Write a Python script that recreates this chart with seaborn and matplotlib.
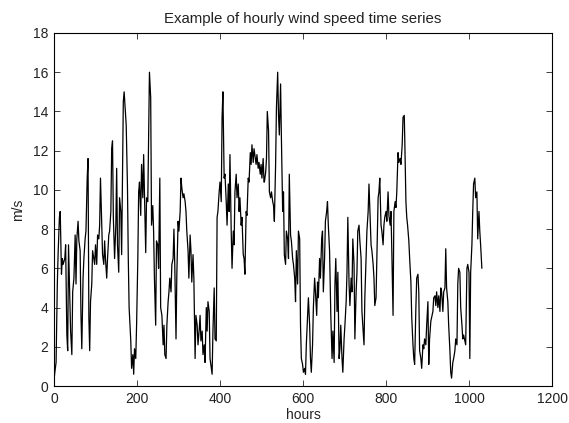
import matplotlib
matplotlib.use("Agg")
import matplotlib.pyplot as plt
import seaborn as sns
import pandas as pd

hours = [0, 2, 5, 8, 10, 13, 15, 18, 20, 22, 26, 28, 31, 33, 35, 38, 40, 43, 45, 48,
         51, 53, 55, 58, 60, 63, 65, 67, 70, 72, 75, 77, 80, 82, 84, 86, 88, 91, 93, 96,
         98, 100, 103, 105, 108, 110, 112, 115, 117, 120, 122, 124, 127, 129, 132, 134, 137, 139, 141, 143,
         146, 149, 151, 153, 156, 158, 161, 163,
         167, 169, 172, 174, 177, 179, 181, 185, 187, 190, 192, 194, 197, 199, 202, 204, 206, 209, 211, 214,
         216, 218, 221, 223, 226, 228, 230, 233, 235, 238, 240, 242, 245, 247, 250, 252, 255, 257, 260, 263,
         265, 267, 270, 272, 275, 277, 279, 282, 284, 287, 289, 291, 294, 296, 299, 301, 304, 306, 308, 311,
         313, 316, 318, 320, 323, 325, 328, 330, 332, 335, 337,
         340, 342, 345, 347, 350, 352, 354, 357, 359, 362, 364, 367, 369, 371, 374, 376, 379, 381, 383, 386,
         388, 391, 393, 395, 398, 400, 403, 405, 407, 410, 412, 415, 417, 420, 422, 424, 427, 429, 432, 434,
         436, 439, 441, 444, 446, 448, 451, 453, 456, 458, 460, 463, 465, 468, 470, 473, 475, 477, 480, 482,
         485, 487, 489, 492, 494, 497, 499, 501, 504, 506,
         507, 510, 512, 514, 517, 519, 522, 524, 527, 529, 531, 534, 536, 539, 541, 543, 546, 548, 551, 553,
         555, 558, 560, 563, 565, 567, 570, 572, 575, 577, 580, 582, 584, 587, 589, 592, 594, 596, 599, 601,
         604, 606, 608, 611, 613, 616, 618, 620, 623, 625, 628, 630, 633, 635, 637, 640, 642, 645, 647, 649,
         652, 654, 657, 659, 661, 664,
         667, 670, 672, 675, 677, 679, 682, 684, 687, 689, 691, 694, 696, 699, 701, 704, 706, 708, 711, 713,
         716, 718, 720, 723, 725, 728, 730, 732, 735, 737, 740, 742, 745, 747, 749, 752, 754, 757, 759, 761,
         764, 766, 769, 771, 773, 776, 778, 781, 783, 785, 788, 790, 793, 795, 797, 800, 802, 805, 807, 810,
         812, 814, 817, 819, 822, 824, 826, 829, 831,
         834, 836, 839, 841, 844, 845, 848, 850, 852, 855, 857, 860, 862, 865, 867, 869, 872, 874, 877, 879,
         881, 884, 886, 889, 891, 893, 896, 898, 901, 903, 905, 908, 910, 913, 915, 918, 920, 922, 925, 927,
         930, 932, 934, 937, 939, 942, 944, 946, 949, 951, 954, 956, 958, 961, 963, 966, 968, 971, 973, 975,
         978, 980, 983, 985, 987, 990, 992, 995, 997, 1000, 1002, 1004, 1007, 1009, 1011, 1014, 1016, 1019, 1021, 1024,
         1026, 1028, 1031]

speed = [0.3, 0.7, 1.2, 5.2, 6.8, 8.6, 8.9, 5.7, 6.5, 6.2, 6.5, 7.2, 2.6, 1.8, 7.2, 4.5, 2.8, 1.6, 4.8, 5.5,
         7.7, 5.2, 7.5, 8.4, 7.4, 6.9, 3.6, 1.9, 5.5, 6.5, 7.5, 7.9, 10.6, 11.6, 3.5, 1.8, 4.3, 5.2, 6.9, 6.5,
         6.2, 7.2, 6.2, 7.7, 7.5, 8.2, 10.6, 8.2, 6.7, 6.2, 7.4, 6.5, 5.5, 6.5, 7.7, 7.9, 8.9, 12.1, 12.5, 8.6,
         6.5, 8.2, 11.1, 7.2, 5.8, 9.6, 8.9, 6.7,
         14.5, 15.0, 14.0, 13.3, 10.2, 6.5, 4.0, 2.3, 0.9, 1.6, 0.6, 1.9, 1.4, 3.1, 6.5, 9.9, 10.4, 8.7, 11.3, 9.6,
         11.8, 9.9, 6.8, 9.6, 9.4, 12.8, 16.0, 14.7, 8.2, 9.2, 7.9, 5.5, 3.1, 7.4, 7.2, 6.0, 10.6, 4.0, 3.6, 2.1,
         3.1, 1.6, 1.4, 3.1, 4.3, 4.8, 5.5, 4.8, 6.2, 6.5, 8.0, 6.2, 2.4, 5.7, 8.4, 7.9, 8.9, 10.6, 10.1, 9.6,
         9.8, 9.4, 8.9, 7.9, 6.9, 5.5, 7.7, 6.9, 5.3, 6.7, 5.5,
         1.4, 3.6, 3.1, 2.1, 2.9, 3.6, 2.3, 2.8, 1.6, 2.1, 1.2, 4.0, 2.8, 4.3, 3.8, 1.4, 0.9, 0.6, 2.8, 5.0,
         2.4, 2.3, 8.6, 8.9, 9.9, 10.4, 9.4, 13.7, 15.0, 10.6, 10.8, 9.4, 8.2, 10.3, 8.9, 11.8, 7.9, 6.0, 7.9, 7.2,
         9.9, 10.8, 9.6, 10.3, 8.9, 9.6, 8.2, 8.6, 6.7, 6.5, 5.7, 8.9, 8.7, 10.6, 10.4, 11.9, 11.3, 12.3, 11.4, 12.1,
         11.6, 11.3, 11.8, 11.1, 11.4, 10.8, 11.3, 10.6, 11.6, 10.4,
         10.4, 10.9, 11.6, 14.0, 13.0, 9.9, 9.6, 9.9, 9.4, 9.2, 8.4, 11.3, 14.2, 16.0, 13.8, 12.8, 15.4, 12.6, 8.9, 9.9,
         6.7, 6.2, 7.9, 7.5, 6.5, 10.8, 7.7, 7.4, 6.5, 6.2, 5.5, 4.3, 6.9, 5.2, 7.9, 7.5, 3.1, 1.4, 1.1, 0.7,
         0.9, 0.6, 2.1, 3.6, 4.5, 3.1, 1.4, 0.7, 2.1, 4.0, 5.5, 4.8, 3.6, 5.3, 4.5, 6.5, 5.5, 7.5, 7.9, 4.8,
         6.5, 8.4, 8.9, 9.4, 8.2, 6.9,
         3.6, 1.4, 2.8, 1.2, 5.2, 6.5, 3.8, 5.8, 1.4, 1.9, 3.1, 1.4, 0.7, 2.4, 3.1, 4.3, 5.8, 8.6, 5.2, 4.1,
         5.5, 4.8, 7.5, 6.2, 2.4, 4.8, 5.8, 7.9, 8.2, 7.4, 6.5, 3.8, 2.8, 2.1, 4.5, 6.5, 7.9, 8.9, 10.3, 9.1,
         7.2, 6.9, 6.2, 5.5, 4.1, 4.5, 6.5, 9.6, 9.9, 10.6, 8.2, 7.9, 7.2, 8.2, 8.6, 8.9, 8.4, 9.9, 8.7, 8.2,
         8.9, 6.9, 3.6, 8.9, 9.4, 9.1, 9.9, 11.9, 11.4,
         11.6, 11.3, 12.3, 13.7, 13.8, 12.8, 9.4, 8.6, 8.2, 7.4, 6.5, 5.3, 3.5, 2.1, 1.4, 1.1, 4.0, 5.5, 5.7, 4.8,
         1.8, 1.4, 0.9, 2.1, 1.9, 2.4, 2.1, 3.1, 4.3, 1.1, 2.4, 3.3, 3.5, 3.8, 4.5, 4.6, 4.1, 4.8, 4.0, 4.6,
         3.8, 5.0, 4.8, 3.8, 4.8, 5.0, 7.0, 5.0, 4.3, 3.1, 1.8, 0.7, 0.4, 1.2, 1.4, 1.8, 2.4, 2.1, 5.2, 6.0,
         5.8, 4.0, 3.1, 2.4, 2.6, 2.3, 2.1, 6.0, 6.2, 5.8, 1.4, 5.8, 7.2, 8.9, 10.3, 10.6, 9.6, 9.9, 7.5, 8.9,
         7.9, 7.2, 6.0]

title = "Example of hourly wind speed time series"
xlabel = "hours"
ylabel = "m/s"
xticks = [0, 200, 400, 600, 800, 1000, 1200]
yticks = [0, 2, 4, 6, 8, 10, 12, 14, 16, 18]

df = pd.DataFrame({"hours": hours, "speed": speed})

sns.set_style("white")
plt.rcParams["font.family"] = ["Liberation Sans", "DejaVu Sans"]
plt.rcParams["font.size"] = 10

fig = plt.figure(figsize=(5.69, 4.23), dpi=100)
ax = fig.add_axes([54 / 569, 37 / 423, 498 / 569, 353 / 423])
sns.lineplot(data=df, x="hours", y="speed", color="black", linewidth=0.9, ax=ax, estimator=None, sort=False)

ax.set_xlim(0, 1200)
ax.set_ylim(0, 18)
ax.set_xticks(xticks)
ax.set_yticks(yticks)
ax.set_xticklabels([str(t) for t in xticks])
ax.set_yticklabels([str(t) for t in yticks])
ax.tick_params(direction="in", length=4, width=0.6, top=True, right=True, bottom=True, left=True,
               labelsize=10, colors="#222222", pad=4)
for s in ax.spines.values():
    s.set_visible(True)
    s.set_color("black")
    s.set_linewidth(0.8)
ax.set_title(title, fontsize=10.8, pad=7, color="#222222")
ax.set_xlabel(xlabel, fontsize=10, labelpad=2, color="#222222")
ax.set_ylabel(ylabel, fontsize=10, labelpad=6, color="#222222")
ax.grid(False)

fig.savefig("out.png", dpi=100, facecolor="white")
